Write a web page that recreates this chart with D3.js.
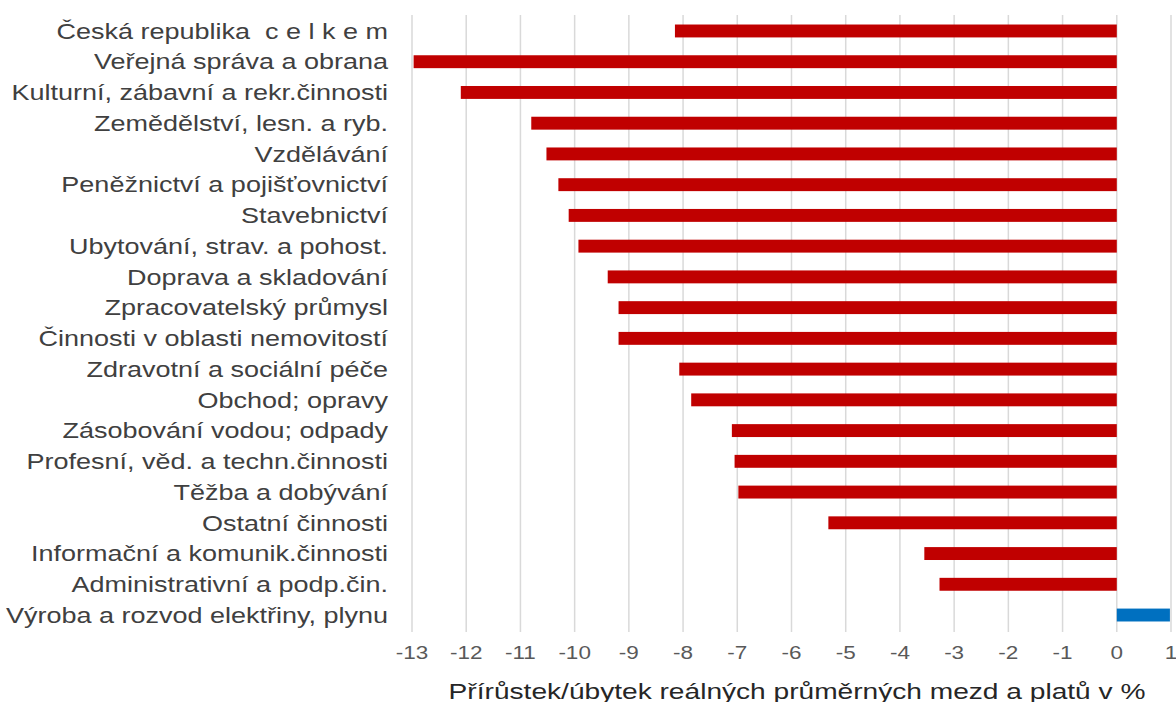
<!DOCTYPE html>
<html>
<head>
<meta charset="utf-8">
<script src="https://cdn.jsdelivr.net/npm/d3@7"></script>
<style>
  body { margin: 0; background: #fff; }
  svg { display: block; }
  text { font-family: "Liberation Sans", Arial, sans-serif; white-space: pre; }
</style>
</head>
<body>
<div id="graph"></div>
<script>
// categories top to bottom
var categories = [
  "Česká republika  c e l k e m",
  "Veřejná správa a obrana",
  "Kulturní, zábavní a rekr.činnosti",
  "Zemědělství, lesn. a ryb.",
  "Vzdělávání",
  "Peněžnictví a pojišťovnictví",
  "Stavebnictví",
  "Ubytování, strav. a pohost.",
  "Doprava a skladování",
  "Zpracovatelský průmysl",
  "Činnosti v oblasti nemovitostí",
  "Zdravotní a sociální péče",
  "Obchod; opravy",
  "Zásobování vodou; odpady",
  "Profesní, věd. a techn.činnosti",
  "Těžba a dobývání",
  "Ostatní činnosti",
  "Informační a komunik.činnosti",
  "Administrativní a podp.čin.",
  "Výroba a rozvod elektřiny, plynu"
];

var values = [-8.15, -12.97, -12.1, -10.8, -10.52, -10.3, -10.11, -9.93, -9.39, -9.19,
              -9.19, -8.07, -7.85, -7.1, -7.05, -6.98, -5.32, -3.55, -3.27, 0.98];

var tickValues = [-13, -12, -11, -10, -9, -8, -7, -6, -5, -4, -3, -2, -1, 0, 1];

var axisTitle = "Přírůstek/úbytek reálných průměrných mezd a platů v %";

// the picture is stretched horizontally, so draw in a narrower box and stretch it
var svgWidth = 1176, svgHeight = 702;
var stretch = 1.25;
var innerWidth = svgWidth / stretch;

var svg = d3.select("#graph")
  .append("svg")
  .attr("width", svgWidth)
  .attr("height", svgHeight)
  .attr("viewBox", `0 0 ${innerWidth} ${svgHeight}`)
  .attr("preserveAspectRatio", "none");

var xScale = d3.scaleLinear()
  .domain([-13, 1])
  .range([412 / stretch, 1171 / stretch]);

var yScale = d3.scaleBand()
  .domain(categories)
  .range([15.6, 630.4])
  .paddingInner(0.58)
  .paddingOuter(0.29);

// gridlines
svg.append("g")
  .selectAll("line")
  .data(tickValues)
  .enter()
  .append("line")
  .attr("x1", d => xScale(d))
  .attr("x2", d => xScale(d))
  .attr("y1", 15)
  .attr("y2", 632)
  .attr("stroke", "#d9d9d9")
  .attr("stroke-width", 1.2);

// bars
svg.append("g")
  .selectAll("rect")
  .data(values)
  .enter()
  .append("rect")
  .attr("x", d => xScale(Math.min(0, d)))
  .attr("y", (d, i) => yScale(categories[i]))
  .attr("width", d => Math.abs(xScale(d) - xScale(0)))
  .attr("height", yScale.bandwidth())
  .attr("fill", d => d < 0 ? "#c00000" : "#0070c0");

// category labels
svg.append("g")
  .selectAll("text")
  .data(categories)
  .enter()
  .append("text")
  .attr("x", 388 / stretch)
  .attr("y", d => yScale(d) + yScale.bandwidth() / 2)
  .attr("dy", "0.36em")
  .attr("text-anchor", "end")
  .attr("font-size", 21.6)
  .attr("fill", "#404040")
  .text(d => d);

// x tick labels
svg.append("g")
  .selectAll("text")
  .data(tickValues)
  .enter()
  .append("text")
  .attr("x", d => xScale(d))
  .attr("y", 659)
  .attr("text-anchor", "middle")
  .attr("font-size", 18)
  .attr("fill", "#595959")
  .text(d => d);

// axis title
svg.append("text")
  .attr("x", 797 / stretch)
  .attr("y", 699)
  .attr("text-anchor", "middle")
  .attr("font-size", 22.5)
  .attr("fill", "#262626")
  .text(axisTitle);
</script>
</body>
</html>
